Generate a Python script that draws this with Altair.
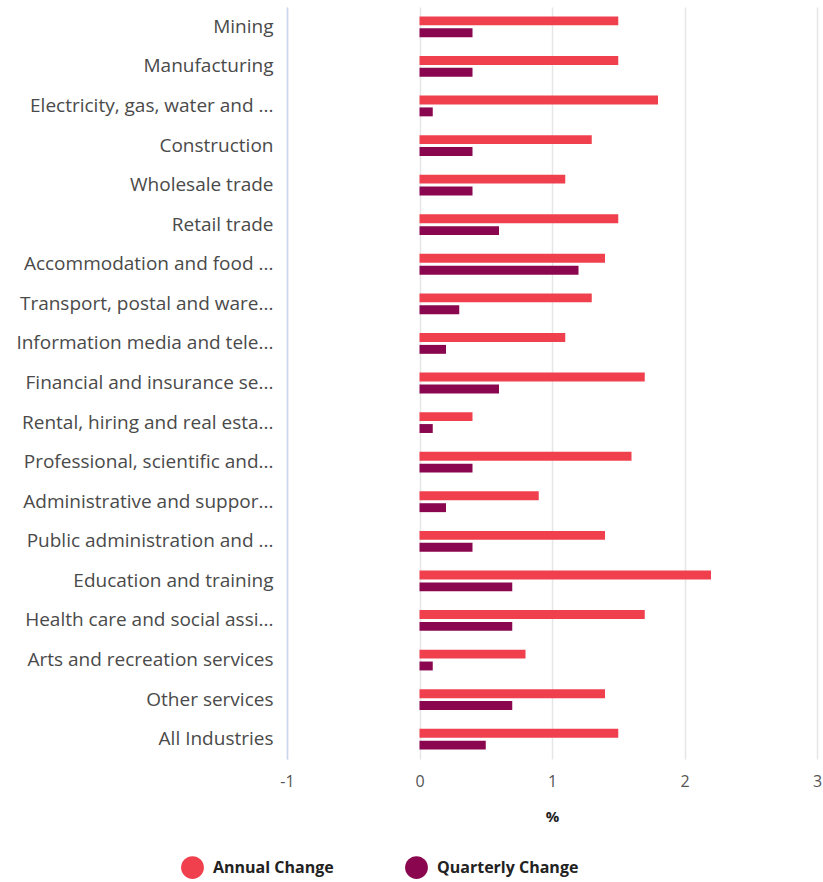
import altair as alt
import pandas as pd

industries = [
    "Mining", "Manufacturing", "Electricity, gas, water and ...", "Construction",
    "Wholesale trade", "Retail trade", "Accommodation and food ...",
    "Transport, postal and ware...", "Information media and tele...",
    "Financial and insurance se...", "Rental, hiring and real esta...",
    "Professional, scientific and...", "Administrative and suppor...",
    "Public administration and ...", "Education and training",
    "Health care and social assi...", "Arts and recreation services",
    "Other services", "All Industries",
]
annual = [1.5, 1.5, 1.8, 1.3, 1.1, 1.5, 1.4, 1.3, 1.1, 1.7, 0.4, 1.6, 0.9, 1.4, 2.2, 1.7, 0.8, 1.4, 1.5]
quarterly = [0.4, 0.4, 0.1, 0.4, 0.4, 0.6, 1.2, 0.3, 0.2, 0.6, 0.1, 0.4, 0.2, 0.4, 0.7, 0.7, 0.1, 0.7, 0.5]
series = ["Annual Change", "Quarterly Change"]
colors = ["#F0404E", "#8A064E"]
x_ticks = [-1, 0, 1, 2, 3]

rows = []
for i, ind in enumerate(industries):
    rows.append({"industry": ind, "series": series[0], "value": annual[i]})
    rows.append({"industry": ind, "series": series[1], "value": quarterly[i]})
df = pd.DataFrame(rows)

FONT = "Open Sans"

chart = alt.Chart(df).mark_bar().encode(
    y=alt.Y("industry:N", sort=industries,
            scale=alt.Scale(paddingInner=0.4, paddingOuter=0.2),
            axis=alt.Axis(title=None, ticks=False, grid=False, domainColor="#c9d6ee",
                          domainWidth=1.5, labelFontSize=19, labelColor="#4a4a4a",
                          labelPadding=14, labelLimit=300, labelFont=FONT)),
    yOffset=alt.YOffset("series:N", sort=series,
                        scale=alt.Scale(paddingInner=0.25, paddingOuter=0.125)),
    x=alt.X("value:Q", scale=alt.Scale(domain=[-1, 3], nice=False),
            axis=alt.Axis(title="%", values=x_ticks, labelExpr="toString(datum.value)",
                          domain=False, ticks=False, grid=True, gridColor="#e6e6e6",
                          gridWidth=1.5, labelFontSize=16, labelColor="#555555",
                          labelPadding=14, labelFlush=False, labelFont=FONT, titleFont=FONT,
                          titleFontSize=15, titleFontWeight="bold", titleColor="#222222",
                          titlePadding=20)),
    color=alt.Color("series:N", sort=series,
                    scale=alt.Scale(domain=series, range=colors),
                    legend=alt.Legend(title=None, orient="none", legendX=-106, legendY=849,
                                      direction="horizontal", symbolType="circle",
                                      symbolSize=520, symbolStrokeWidth=0,
                                      labelFont=FONT, labelFontSize=16,
                                      labelFontWeight="bold", labelColor="#222222",
                                      labelOffset=9, columnPadding=71)),
).properties(
    width=530, height=752,
    autosize=alt.AutoSizeParams(type="none"),
    padding={"left": 287, "top": 7, "right": 6, "bottom": 123},
).configure_view(stroke=None)

chart.save("out.html", embed_options={"renderer": "svg", "actions": False})
